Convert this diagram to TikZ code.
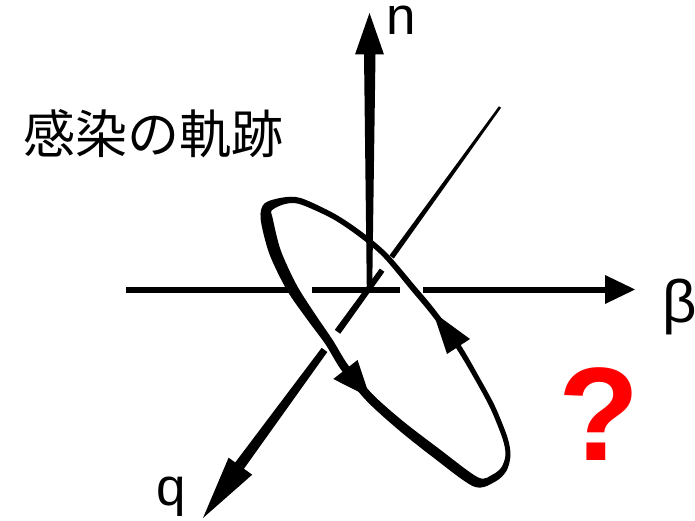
\documentclass[tikz,border=0pt]{standalone}
\usepackage{fontspec}
\setmainfont{Liberation Sans}
\newfontfamily\jpfont{Noto Sans CJK JP}
\begin{document}
\begin{tikzpicture}[x=1pt,y=-1pt,
  ink/.style={fill=black},
  lbl/.style={inner sep=0pt, anchor=base},
  axlabel/.style={lbl, font=\fontsize{53}{60}\selectfont}]
\useasboundingbox (0,0) rectangle (695,521);

% beta axis (horizontal), with gaps where the ellipse passes in front
\fill[ink] (126,286.5) rectangle (294,292.5);
\fill[ink] (312,286.5) rectangle (400,292.5);
\fill[ink] (423,286.5) rectangle (606,292.5);
\fill[ink] (605,275) -- (635,289.5) -- (605,304) -- cycle;

% n axis (vertical, tapered)
\fill[ink] (366.8,289) -- (364,54) -- (375.5,54) -- (372.2,289) -- cycle;
\fill[ink] (355,54.5) -- (369.5,13) -- (384,54.5) -- cycle;

% q axis (diagonal, tapered, with gaps)
\fill[ink] (501.05,107.76) -- (393.76,258.56) -- (389.44,255.44) -- (498.95,106.24) -- cycle;
\fill[ink] (384.36,271.83) -- (340.22,333.76) -- (334.78,329.84) -- (379.84,268.57) -- cycle;
\fill[ink] (327.35,351.96) -- (241.2,472.6) -- (232.4,466.2) -- (321.65,347.84) -- cycle;
\fill[ink] (252.2,474.7) -- (203,518) -- (228.6,457.7) -- cycle;

% tilted orbit (variable stroke width)
\fill[ink, even odd rule]
  plot[smooth cycle] coordinates {(264.4,203.5) (282.4,197.6) (300.9,198.1) (334.3,213.6) (361.7,231.8) (387,253.1) (415.3,286.1) (435.4,310.2) (460.3,344.5) (480.2,378.8) (495.3,406.9) (507.4,437.2) (510.5,455.1) (506.6,470.6) (495.6,481.4) (474,486.6) (432,456.5) (397.5,429) (366.8,401.1) (341.6,370.5) (325.5,344.3) (308.1,320.7) (287.2,290.7) (269.4,254) (260.6,218.9)}
  plot[smooth cycle] coordinates {(271.6,210.5) (283.6,204.4) (299.1,203.9) (331.7,218.4) (358.4,236.2) (383,256.9) (410.7,289.9) (430.6,313.8) (455.7,347.5) (475.8,381.2) (490.7,409.1) (502.6,438.8) (505.5,454.9) (501.4,467.4) (492.4,474.6) (478,477.4) (438,448) (403.5,421.6) (373.2,394.9) (348.4,365.5) (332.5,339.7) (315.9,315.3) (296.8,285.3) (280.6,250) (272.4,217.1)};

% direction arrows on the orbit
\fill[ink] (333.3,379) -- (370,397.5) -- (357.5,360) -- cycle;
\fill[ink] (447,354) -- (433,312) -- (470,339) -- cycle;

% labels
\node[axlabel, text height=28pt] (nlab) at (401.5,35) {n};
\node[lbl, font=\fontsize{60}{66}\selectfont, text height=44pt] (betalab) at (679.5,322) {β};
\node[axlabel] (qlab) at (171.5,505.5) {q};
\node[lbl, font=\jpfont\fontsize{52}{60}\selectfont] (title) at (153,154) {感染の軌跡};
\node[lbl, font=\fontsize{133}{140}\selectfont\bfseries, text=red] (qmark) at (599,460) {?};
\end{tikzpicture}
\end{document}
